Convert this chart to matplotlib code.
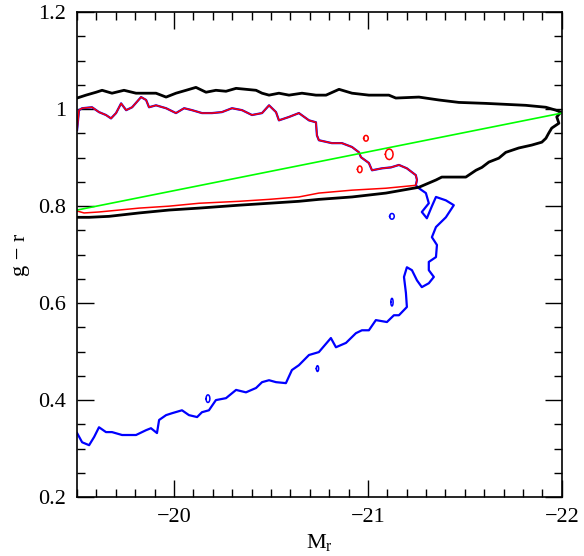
import matplotlib
matplotlib.use('Agg')
import matplotlib.pyplot as plt
import numpy as np
from matplotlib.ticker import MultipleLocator, FuncFormatter

plt.rcParams['font.family'] = ['Liberation Serif', 'DejaVu Serif']
plt.rcParams['mathtext.fontset'] = 'custom'
plt.rcParams['mathtext.rm'] = 'Liberation Serif'

# black outer contour: upper edge left->right, then lower edge right->left
black_x = [-19.5, -19.546, -19.598, -19.629, -19.68, -19.742, -19.804, -19.907, -19.959, -20.01,
           -20.062, -20.113, -20.165, -20.216, -20.268, -20.32, -20.423, -20.454, -20.49, -20.541,
           -20.593, -20.66, -20.732, -20.784, -20.851, -20.918, -21.005, -21.108, -21.144, -21.263,
           -21.366, -21.469, -21.608, -21.711, -21.814, -21.918, -21.969, -21.995,
           -21.974, -21.985, -21.948, -21.933, -21.918, -21.897, -21.845, -21.778, -21.711, -21.675,
           -21.624, -21.588, -21.557, -21.505, -21.433, -21.381, -21.351, -21.263, -21.093, -20.918,
           -20.747, -20.644, -20.49, -20.335, -20.129, -19.974, -19.82, -19.665, -19.562, -19.5]
black_y = [1.023, 1.029, 1.035, 1.039, 1.033, 1.039, 1.033, 1.033, 1.025, 1.033,
           1.039, 1.045, 1.035, 1.039, 1.037, 1.043, 1.039, 1.033, 1.029, 1.033,
           1.029, 1.033, 1.029, 1.029, 1.041, 1.033, 1.029, 1.029, 1.023, 1.025,
           1.019, 1.014, 1.012, 1.01, 1.008, 1.004, 0.998, 0.994,
           0.984, 0.971, 0.961, 0.951, 0.94, 0.932, 0.926, 0.92, 0.911, 0.899,
           0.891, 0.88, 0.874, 0.86, 0.86, 0.86, 0.854, 0.839, 0.827, 0.819,
           0.814, 0.81, 0.806, 0.802, 0.796, 0.792, 0.786, 0.779, 0.777, 0.777]

# red contour: upper edge left->right, then lower edge right->left
red_up_x = [-19.5, -19.51, -19.526, -19.577, -19.613, -19.649, -19.675, -19.701, -19.727, -19.753,
            -19.784, -19.83, -19.856, -19.871, -19.907, -19.959, -20.01, -20.052, -20.093, -20.144,
            -20.196, -20.247, -20.299, -20.351, -20.402, -20.454, -20.49, -20.526, -20.541, -20.593,
            -20.644, -20.696, -20.732, -20.737, -20.747, -20.814, -20.866, -20.918, -20.954, -20.964,
            -21.005, -21.021, -21.072, -21.119, -21.16, -21.201, -21.247, -21.253, -21.247]
red_up_y = [0.957, 0.998, 1.002, 1.004, 0.994, 0.988, 0.981, 0.992, 1.012, 0.998,
            1.004, 1.025, 1.019, 1.004, 1.008, 1.002, 0.992, 1.002, 0.998, 0.992,
            0.992, 0.994, 1.002, 0.998, 0.988, 0.992, 1.008, 0.994, 0.977, 0.984,
            0.992, 0.977, 0.973, 0.946, 0.936, 0.93, 0.93, 0.922, 0.911, 0.901,
            0.889, 0.874, 0.878, 0.88, 0.885, 0.878, 0.864, 0.854, 0.843]
red_lo_x = [-21.093, -20.918, -20.747, -20.644, -20.49, -20.335,
            -20.129, -19.974, -19.82, -19.613, -19.536, -19.5]
red_lo_y = [0.837, 0.833, 0.827, 0.819, 0.814, 0.81,
            0.806, 0.8, 0.796, 0.788, 0.786, 0.79]

# blue contour: follows the red upper edge, then runs down to the faint end
blue_dn_x = [-21.263, -21.299, -21.314, -21.278, -21.304, -21.33, -21.351, -21.402, -21.443, -21.402,
             -21.351, -21.33, -21.356, -21.351, -21.314, -21.314, -21.34, -21.314, -21.278, -21.253,
             -21.227, -21.201, -21.186, -21.196, -21.201, -21.16, -21.134, -21.098, -21.041, -21.005,
             -20.969, -20.938, -20.887, -20.835, -20.809, -20.747, -20.696, -20.644, -20.608, -20.577,
             -20.526, -20.49, -20.454, -20.423, -20.371, -20.32, -20.268, -20.216, -20.18, -20.144,
             -20.119, -20.077, -20.041, -19.99, -19.959, -19.923, -19.912, -19.881, -19.856, -19.804,
             -19.732, -19.68, -19.649, -19.613, -19.588, -19.562, -19.526, -19.5]
blue_dn_y = [0.837, 0.827, 0.806, 0.788, 0.775, 0.8, 0.819, 0.812, 0.802, 0.777,
             0.757, 0.736, 0.72, 0.695, 0.685, 0.668, 0.654, 0.641, 0.633, 0.647,
             0.668, 0.674, 0.654, 0.621, 0.592, 0.575, 0.575, 0.561, 0.565, 0.544,
             0.544, 0.538, 0.518, 0.509, 0.528, 0.499, 0.493, 0.472, 0.462, 0.435,
             0.437, 0.441, 0.437, 0.425, 0.416, 0.421, 0.404, 0.4, 0.379, 0.375,
             0.365, 0.369, 0.379, 0.373, 0.369, 0.359, 0.332, 0.342, 0.338, 0.328,
             0.328, 0.334, 0.334, 0.344, 0.324, 0.307, 0.313, 0.332]

# small isolated islands (centre x, centre y, half-width, half-height)
red_islands = [(-21.11, 0.907, 0.02, 0.011), (-20.958, 0.876, 0.012, 0.007),
               (-20.99, 0.94, 0.012, 0.006)]
blue_islands = [(-21.124, 0.779, 0.012, 0.006), (-20.175, 0.403, 0.01, 0.008),
                (-21.124, 0.602, 0.006, 0.008), (-20.74, 0.465, 0.006, 0.006)]

# green fiducial line
green_x = [-19.5, -22.0]
green_y = [0.792, 0.992]

fig = plt.figure(figsize=(5.84, 5.56), dpi=100)
ax = fig.add_axes([0.132, 0.106, 0.83, 0.872])

ax.plot(red_up_x + blue_dn_x, red_up_y + blue_dn_y, color='#0000ff', lw=1.6)
ax.plot(red_up_x + red_lo_x, red_up_y + red_lo_y, color='#ff0000', lw=1.1)
ax.plot(black_x, black_y, color='black', lw=2.0)
ax.plot(green_x, green_y, color='#00ff00', lw=1.2)

t = np.linspace(0, 2 * np.pi, 13)
for cx, cy, w, h in red_islands:
    ax.plot(cx + w * np.cos(t), cy + h * np.sin(t), color='#ff0000', lw=1.1)
for cx, cy, w, h in blue_islands:
    ax.plot(cx + w * np.cos(t), cy + h * np.sin(t), color='#0000ff', lw=1.1)

ax.set_xlim(-19.5, -22)
ax.set_ylim(0.2, 1.2)
ax.xaxis.set_major_locator(MultipleLocator(1))
ax.xaxis.set_minor_locator(MultipleLocator(0.1))
ax.yaxis.set_major_locator(MultipleLocator(0.2))
ax.yaxis.set_minor_locator(MultipleLocator(0.05))
ax.xaxis.set_major_formatter(FuncFormatter(lambda v, p: '\u2212%d' % round(-v)))
ax.yaxis.set_major_formatter(FuncFormatter(lambda v, p: '%g' % round(v, 2)))
ax.tick_params(which='both', direction='in', top=True, right=True, width=1.0,
               labelsize=16, pad=8)
ax.tick_params(which='major', length=12)
ax.tick_params(which='minor', length=6)
for s in ax.spines.values():
    s.set_linewidth(1.2)

ax.set_xlabel('M$_\\mathregular{r}$', fontsize=16, labelpad=4)
ax.set_ylabel('g \u2212 r', fontsize=16, labelpad=6)

fig.savefig('out.png', dpi=100)
